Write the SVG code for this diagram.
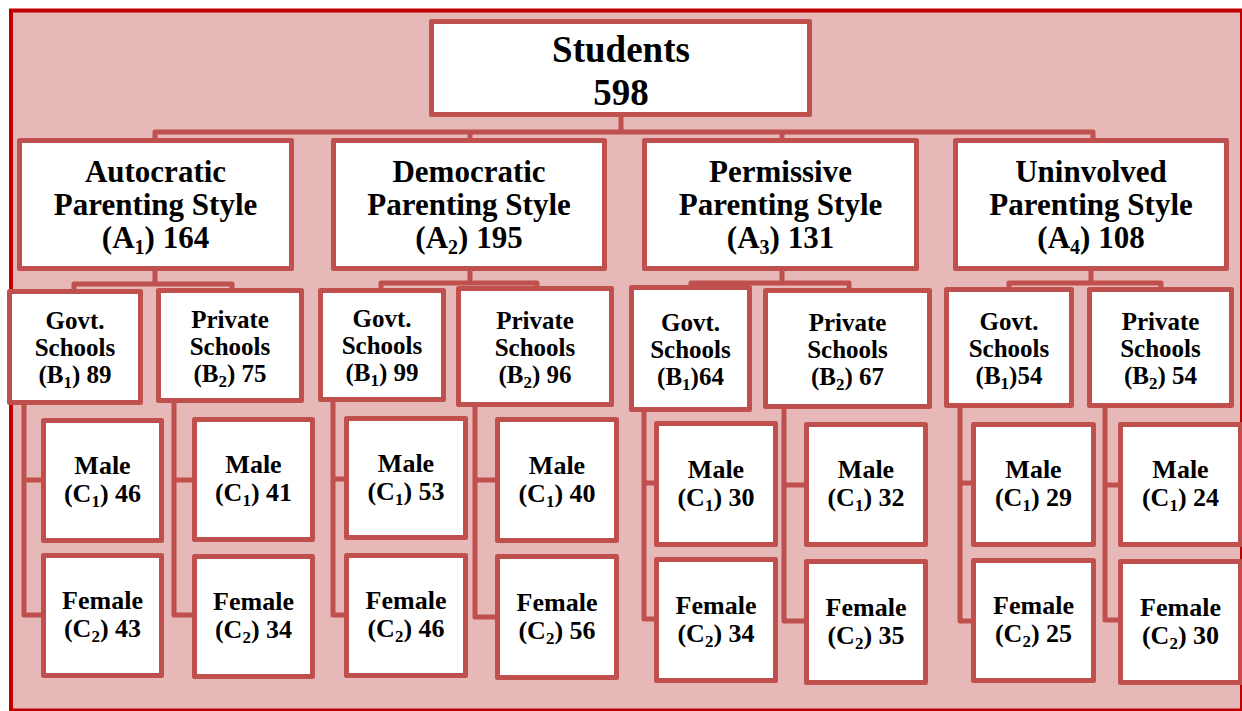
<svg xmlns="http://www.w3.org/2000/svg" width="1242" height="711" viewBox="0 0 1242 711">
<style>
.bg{fill:#e6b8b7;stroke:#c00000;stroke-width:4}
.box{fill:#ffffff;stroke:#c0504d;stroke-width:5;stroke-linejoin:round}
.conn{fill:none;stroke:#c0504d;stroke-width:5;stroke-linejoin:round}
text{font-family:"Liberation Serif","Times New Roman",serif;font-weight:bold;text-anchor:middle;fill:#000}
.s{font-size:37px}
.a{font-size:31px}
.b{font-size:25px}
.c{font-size:26px}
.sa{font-size:20px}
.sb{font-size:17px}
</style>
<rect width="1242" height="711" fill="#ffffff"/>
<rect class="bg" x="11" y="10.5" width="1231" height="700"/>
<g id="connectors">
<path class="conn" d="M621 117V132M155 138V132H1093V138M470 132V138M782 132V138"/>
<path class="conn" d="M155 271V284M74 289V284H232V288"/>
<path class="conn" d="M470 271V283M381 288V283H537V286"/>
<path class="conn" d="M782 271V283M691 285V283H849V288"/>
<path class="conn" d="M1091 271V283M1009 287V283H1161V287"/>
<path class="conn" d="M24 405V615H41M24 480H41"/>
<path class="conn" d="M174 403V615H192M174 480H192"/>
<path class="conn" d="M333 402V615H344M333 479H344"/>
<path class="conn" d="M475 407V617H495M475 480H495"/>
<path class="conn" d="M644 412V619H654M644 483H654"/>
<path class="conn" d="M784 409V621H804M784 485H804"/>
<path class="conn" d="M960 408V621H971M960 483H971"/>
<path class="conn" d="M1105 408V620H1118M1105 485H1118"/>
</g>
<g id="students">
<rect class="box" x="431.5" y="21.5" width="378" height="93"/>
<text class="s" x="621" y="62">Students</text>
<text class="s" x="621" y="105">598</text>
</g>
<g id="a1">
<rect class="box" x="19.5" y="140.5" width="272" height="128"/>
<text class="a" x="155.5" y="182">Autocratic</text>
<text class="a" x="155.5" y="215">Parenting Style</text>
<text class="a" x="155.5" y="248">(A<tspan class="sa" dy="6">1</tspan><tspan dy="-6">) 164</tspan></text>
</g>
<g id="a2">
<rect class="box" x="333.5" y="140.5" width="271" height="128"/>
<text class="a" x="469" y="182">Democratic</text>
<text class="a" x="469" y="215">Parenting Style</text>
<text class="a" x="469" y="248">(A<tspan class="sa" dy="6">2</tspan><tspan dy="-6">) 195</tspan></text>
</g>
<g id="a3">
<rect class="box" x="644.5" y="140.5" width="272" height="128"/>
<text class="a" x="780.5" y="182">Permissive</text>
<text class="a" x="780.5" y="215">Parenting Style</text>
<text class="a" x="780.5" y="248">(A<tspan class="sa" dy="6">3</tspan><tspan dy="-6">) 131</tspan></text>
</g>
<g id="a4">
<rect class="box" x="955.5" y="140.5" width="271" height="128"/>
<text class="a" x="1091" y="182">Uninvolved</text>
<text class="a" x="1091" y="215">Parenting Style</text>
<text class="a" x="1091" y="248">(A<tspan class="sa" dy="6">4</tspan><tspan dy="-6">) 108</tspan></text>
</g>
<g id="a1-govt">
<rect class="box" x="9.5" y="291.5" width="131" height="111"/>
<text class="b" x="75" y="329">Govt.</text>
<text class="b" x="75" y="356">Schools</text>
<text class="b" x="75" y="383">(B<tspan class="sb" dy="5">1</tspan><tspan dy="-5">) 89</tspan></text>
</g>
<g id="a1-private">
<rect class="box" x="158.5" y="290.5" width="143" height="110"/>
<text class="b" x="230" y="327.5">Private</text>
<text class="b" x="230" y="354.5">Schools</text>
<text class="b" x="230" y="381.5">(B<tspan class="sb" dy="5">2</tspan><tspan dy="-5">) 75</tspan></text>
</g>
<g id="a2-govt">
<rect class="box" x="320.5" y="290.5" width="123" height="109"/>
<text class="b" x="382" y="327">Govt.</text>
<text class="b" x="382" y="354">Schools</text>
<text class="b" x="382" y="381">(B<tspan class="sb" dy="5">1</tspan><tspan dy="-5">) 99</tspan></text>
</g>
<g id="a2-private">
<rect class="box" x="458.5" y="288.5" width="153" height="116"/>
<text class="b" x="535" y="328.5">Private</text>
<text class="b" x="535" y="355.5">Schools</text>
<text class="b" x="535" y="382.5">(B<tspan class="sb" dy="5">2</tspan><tspan dy="-5">) 96</tspan></text>
</g>
<g id="a3-govt">
<rect class="box" x="631.5" y="287.5" width="118" height="122"/>
<text class="b" x="690.5" y="330.5">Govt.</text>
<text class="b" x="690.5" y="357.5">Schools</text>
<text class="b" x="690.5" y="384.5">(B<tspan class="sb" dy="5">1</tspan><tspan dy="-5">)64</tspan></text>
</g>
<g id="a3-private">
<rect class="box" x="765.5" y="290.5" width="164" height="116"/>
<text class="b" x="847.5" y="330.5">Private</text>
<text class="b" x="847.5" y="357.5">Schools</text>
<text class="b" x="847.5" y="384.5">(B<tspan class="sb" dy="5">2</tspan><tspan dy="-5">) 67</tspan></text>
</g>
<g id="a4-govt">
<rect class="box" x="946.5" y="289.5" width="125" height="116"/>
<text class="b" x="1009" y="329.5">Govt.</text>
<text class="b" x="1009" y="356.5">Schools</text>
<text class="b" x="1009" y="383.5">(B<tspan class="sb" dy="5">1</tspan><tspan dy="-5">)54</tspan></text>
</g>
<g id="a4-private">
<rect class="box" x="1089.5" y="289.5" width="142" height="116"/>
<text class="b" x="1160.5" y="329.5">Private</text>
<text class="b" x="1160.5" y="356.5">Schools</text>
<text class="b" x="1160.5" y="383.5">(B<tspan class="sb" dy="5">2</tspan><tspan dy="-5">) 54</tspan></text>
</g>
<g id="a1-govt-male">
<rect class="box" x="43.5" y="420.5" width="118" height="120"/>
<text class="c" x="102.5" y="474">Male</text>
<text class="c" x="102.5" y="502">(C<tspan class="sb" dy="5">1</tspan><tspan dy="-5">) 46</tspan></text>
</g>
<g id="a1-govt-female">
<rect class="box" x="43.5" y="555.5" width="118" height="120"/>
<text class="c" x="102.5" y="609">Female</text>
<text class="c" x="102.5" y="637">(C<tspan class="sb" dy="5">2</tspan><tspan dy="-5">) 43</tspan></text>
</g>
<g id="a1-private-male">
<rect class="box" x="194.5" y="419.5" width="118" height="120"/>
<text class="c" x="253.5" y="473">Male</text>
<text class="c" x="253.5" y="501">(C<tspan class="sb" dy="5">1</tspan><tspan dy="-5">) 41</tspan></text>
</g>
<g id="a1-private-female">
<rect class="box" x="194.5" y="556.5" width="118" height="120"/>
<text class="c" x="253.5" y="610">Female</text>
<text class="c" x="253.5" y="638">(C<tspan class="sb" dy="5">2</tspan><tspan dy="-5">) 34</tspan></text>
</g>
<g id="a2-govt-male">
<rect class="box" x="346.5" y="418.5" width="119" height="119"/>
<text class="c" x="406" y="471.5">Male</text>
<text class="c" x="406" y="499.5">(C<tspan class="sb" dy="5">1</tspan><tspan dy="-5">) 53</tspan></text>
</g>
<g id="a2-govt-female">
<rect class="box" x="346.5" y="555.5" width="119" height="120"/>
<text class="c" x="406" y="609">Female</text>
<text class="c" x="406" y="637">(C<tspan class="sb" dy="5">2</tspan><tspan dy="-5">) 46</tspan></text>
</g>
<g id="a2-private-male">
<rect class="box" x="497.5" y="419.5" width="119" height="121"/>
<text class="c" x="557" y="473.5">Male</text>
<text class="c" x="557" y="501.5">(C<tspan class="sb" dy="5">1</tspan><tspan dy="-5">) 40</tspan></text>
</g>
<g id="a2-private-female">
<rect class="box" x="497.5" y="556.5" width="119" height="121"/>
<text class="c" x="557" y="610.5">Female</text>
<text class="c" x="557" y="638.5">(C<tspan class="sb" dy="5">2</tspan><tspan dy="-5">) 56</tspan></text>
</g>
<g id="a3-govt-male">
<rect class="box" x="656.5" y="423.5" width="119" height="121"/>
<text class="c" x="716" y="477.5">Male</text>
<text class="c" x="716" y="505.5">(C<tspan class="sb" dy="5">1</tspan><tspan dy="-5">) 30</tspan></text>
</g>
<g id="a3-govt-female">
<rect class="box" x="656.5" y="559.5" width="119" height="121"/>
<text class="c" x="716" y="613.5">Female</text>
<text class="c" x="716" y="641.5">(C<tspan class="sb" dy="5">2</tspan><tspan dy="-5">) 34</tspan></text>
</g>
<g id="a3-private-male">
<rect class="box" x="806.5" y="424.5" width="119" height="120"/>
<text class="c" x="866" y="478">Male</text>
<text class="c" x="866" y="506">(C<tspan class="sb" dy="5">1</tspan><tspan dy="-5">) 32</tspan></text>
</g>
<g id="a3-private-female">
<rect class="box" x="806.5" y="561.5" width="119" height="121"/>
<text class="c" x="866" y="615.5">Female</text>
<text class="c" x="866" y="643.5">(C<tspan class="sb" dy="5">2</tspan><tspan dy="-5">) 35</tspan></text>
</g>
<g id="a4-govt-male">
<rect class="box" x="973.5" y="424.5" width="120" height="120"/>
<text class="c" x="1033.5" y="478">Male</text>
<text class="c" x="1033.5" y="506">(C<tspan class="sb" dy="5">1</tspan><tspan dy="-5">) 29</tspan></text>
</g>
<g id="a4-govt-female">
<rect class="box" x="973.5" y="560.5" width="120" height="120"/>
<text class="c" x="1033.5" y="614">Female</text>
<text class="c" x="1033.5" y="642">(C<tspan class="sb" dy="5">2</tspan><tspan dy="-5">) 25</tspan></text>
</g>
<g id="a4-private-male">
<rect class="box" x="1120.5" y="424.5" width="120" height="120"/>
<text class="c" x="1180.5" y="478">Male</text>
<text class="c" x="1180.5" y="506">(C<tspan class="sb" dy="5">1</tspan><tspan dy="-5">) 24</tspan></text>
</g>
<g id="a4-private-female">
<rect class="box" x="1120.5" y="561.5" width="120" height="121"/>
<text class="c" x="1180.5" y="615.5">Female</text>
<text class="c" x="1180.5" y="643.5">(C<tspan class="sb" dy="5">2</tspan><tspan dy="-5">) 30</tspan></text>
</g>
</svg>
